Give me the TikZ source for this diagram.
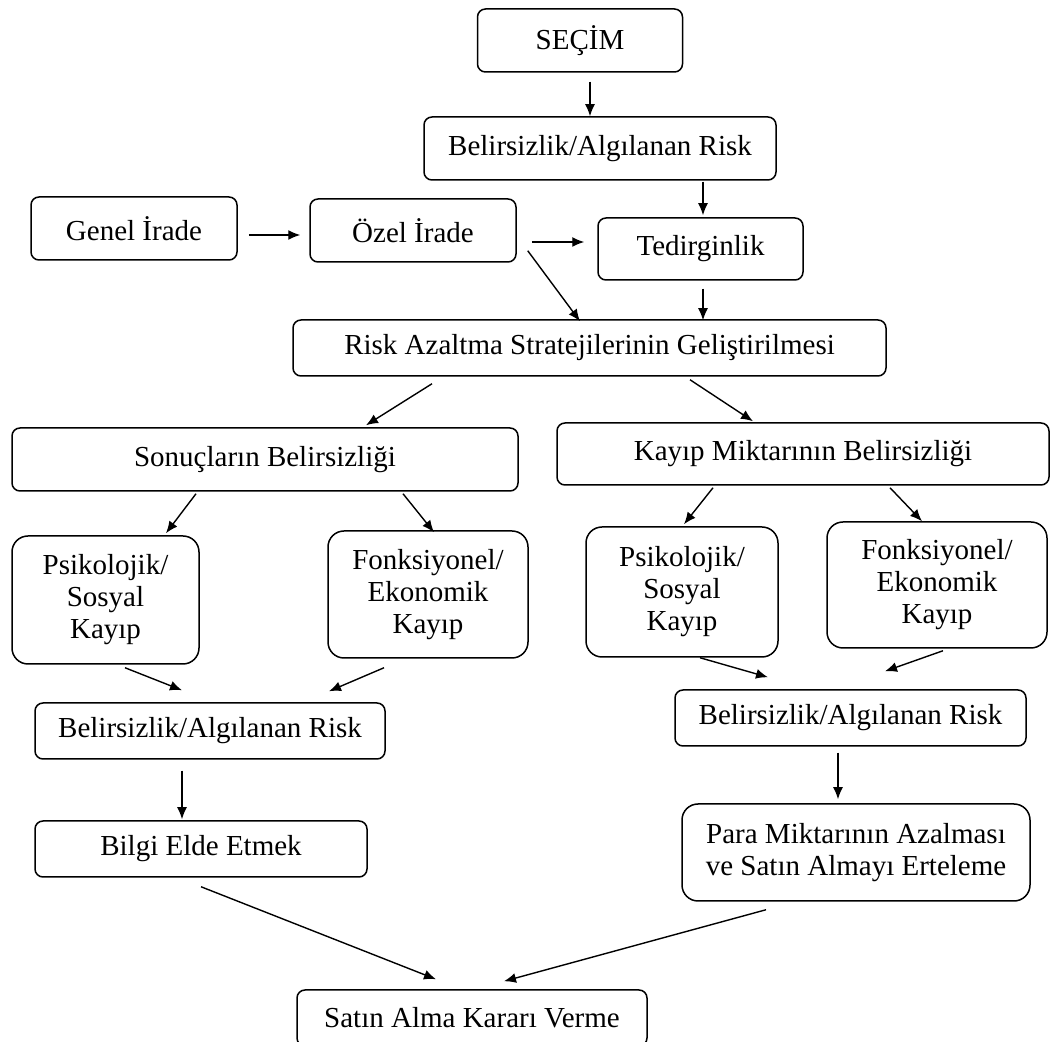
\documentclass[tikz,border=0pt]{standalone}
\usepackage{fontspec}
\setmainfont{Liberation Serif}
\usetikzlibrary{calc,arrows.meta}
\tikzset{boite/.style={draw, line width=0.75pt, rounded corners=4pt, inner sep=0pt, align=center, font=\fontsize{14.5}{16}\selectfont},
grande/.style={boite, rounded corners=8pt},
fleche/.style={line width=0.7pt, -{Latex[length=6pt,width=5pt]}}}
\begin{document}
\begin{tikzpicture}[x=0.5pt,y=-0.5pt]
\clip (0,0) rectangle (1051,1042);
\fill [white] (0,0) rectangle (1051,1042);
\node [boite, minimum width=102.5pt, minimum height=31.5pt] (secim) at (580,40.5) {SEÇİM};
\node [boite, minimum width=176pt, minimum height=31.5pt] (belirsiz) at (600,148.5) {Belirsizlik/Algılanan Risk};
\node [boite, minimum width=103pt, minimum height=31.5pt] (genel) at (134,228.5) {Genel İrade};
\node [boite, minimum width=103pt, minimum height=31.5pt] (ozel) at (413,230.5) {Özel İrade};
\node [boite, minimum width=102.5pt, minimum height=31pt] (tedirgin) at (700.5,249) {Tedirginlik};
\node [boite, minimum width=296.5pt, minimum height=28pt] (risk) at (589.5,348) {Risk Azaltma Stratejilerinin Geliştirilmesi};
\node [boite, minimum width=253pt, minimum height=31.5pt] (sonuc) at (265,459.5) {Sonuçların Belirsizliği};
\node [boite, minimum width=246pt, minimum height=31pt] (kayip) at (803,454) {Kayıp Miktarının Belirsizliği};
\node [grande, minimum width=93.5pt, minimum height=64pt] (psikA) at (105.5,600) {Psikolojik/\\Sosyal\\Kayıp};
\node [grande, minimum width=100pt, minimum height=63.5pt] (fonkA) at (428,594.5) {Fonksiyonel/\\Ekonomik\\Kayıp};
\node [grande, minimum width=96pt, minimum height=65pt] (psikB) at (682,592) {Psikolojik/\\Sosyal\\Kayıp};
\node [grande, minimum width=110pt, minimum height=63pt] (fonkB) at (937,585) {Fonksiyonel/\\Ekonomik\\Kayıp};
\node [boite, minimum width=175pt, minimum height=28pt] (belA) at (210,731) {Belirsizlik/Algılanan Risk};
\node [boite, minimum width=175.5pt, minimum height=28pt] (belB) at (850.5,718) {Belirsizlik/Algılanan Risk};
\node [boite, minimum width=166pt, minimum height=28pt] (bilgi) at (201,849) {Bilgi Elde Etmek};
\node [grande, minimum width=174pt, minimum height=48.5pt] (para) at (856,852.5) {Para Miktarının Azalması\\ve Satın Almayı Erteleme};
\node [boite, minimum width=175pt, minimum height=28pt] (satin) at (472,1018) {Satın Alma Kararı Verme};
% haut
\draw [fleche] ($(secim.south)+(10,9)$) -- ($(belirsiz.north)+(-10,0)$);
\draw [fleche] ($(belirsiz.south)+(103,1)$) -- ($(tedirgin.north)+(2.5,-2)$);
\draw [fleche] ($(genel.east)+(11,6.5)$) -- ($(ozel.west)+(-9,4.5)$);
\draw [fleche] ($(ozel.east)+(15,11.5)$) -- ($(tedirgin.west)+(-13,-7)$);
\draw [fleche] ($(ozel.south east)+(11,-12)$) -- ($(risk.north)+(-9.5,2)$);
\draw [fleche] ($(tedirgin.south)+(2.5,8)$) -- ($(risk.north)+(113.5,1)$);
% milieu
\draw [fleche] ($(risk.south)+(-157.5,7)$) -- ($(sonuc.north)+(101,-2)$);
\draw [fleche] ($(risk.south)+(100.5,3)$) -- ($(kayip.north)+(-50,-1)$);
\draw [fleche] ($(sonuc.south)+(-69,2)$) -- ($(psikA.north)+(60.5,-2)$);
\draw [fleche] ($(sonuc.south)+(138,2)$) -- ($(fonkA.north)+(6,2)$);
\draw [fleche] ($(kayip.south)+(-90,2)$) -- ($(psikB.north)+(2,-2)$);
\draw [fleche] ($(kayip.south)+(87,2)$) -- ($(fonkB.north)+(-15,0)$);
\draw [fleche] ($(psikA.south)+(19.5,3)$) -- ($(belA.north)+(-28,-12)$);
\draw [fleche] ($(fonkA.south)+(-44,9)$) -- ($(belA.north)+(119,-11)$);
\draw [fleche] ($(psikB.south)+(18,0)$) -- ($(belB.north)+(-82.5,-12)$);
\draw [fleche] ($(fonkB.south)+(6,2)$) -- ($(belB.north)+(34.5,-18)$);
% bas
\draw [fleche] ($(belA.south)+(-28,11)$) -- ($(bilgi.north)+(-19,-1)$);
\draw [fleche] ($(belB.south)+(-12.5,6)$) -- ($(para.north)+(-18,-4)$);
\draw [fleche] ($(bilgi.south)+(0,9)$) -- ($(satin.north)+(-36,-10)$);
\draw [fleche] ($(para.south)+(-90,8)$) -- ($(satin.north)+(32,-8)$);
\end{tikzpicture}
\end{document}
